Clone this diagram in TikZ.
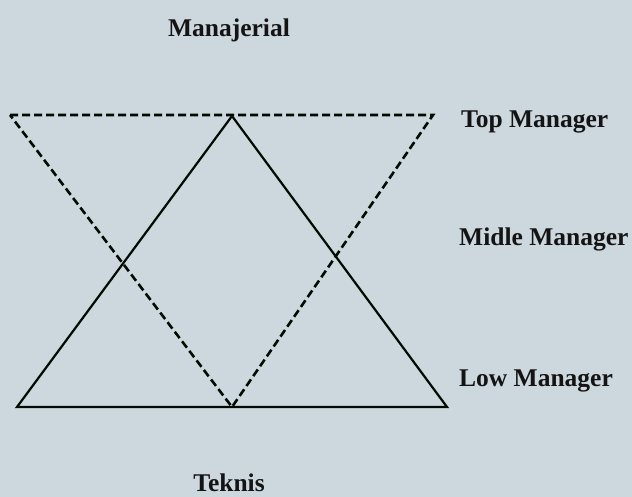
\documentclass[tikz,border=0pt]{standalone}
\usepackage{fontspec}
\setmainfont{Liberation Serif}
\begin{document}
\begin{tikzpicture}[x=1pt,y=-1pt,
  ink/.style={draw=black!90!green!40!black, line width=2.2pt},
  dashln/.style={ink, line width=2.6pt, dash pattern=on 8pt off 4pt},
  lbl/.style={font=\fontsize{25.5}{27}\selectfont\bfseries, text=black!92, inner sep=0pt}]
\fill[fill={rgb,255:red,205;green,215;blue,222}] (0,0) rectangle (632,497);
\useasboundingbox (0,0) rectangle (632,497);
% solid triangle
\coordinate (sa) at (232,116);
\coordinate (sl) at (17,407);
\coordinate (sr) at (447,407);
% dashed inverted triangle
\coordinate (dl) at (10,115);
\coordinate (dr) at (433,115);
\coordinate (db) at (232,407);
\draw[ink, line join=miter] (sa) -- (sl) -- (sr) -- cycle;
\draw[dashln] (dl) -- (dr) -- (db) -- cycle;
% labels
\node[lbl] (manj) at (229,30) {Manajerial};
\node[lbl, anchor=west] (top) at (461,122) {Top Manager};
\node[lbl, anchor=west] (mid) at (459,239) {Midle Manager};
\node[lbl, anchor=west] (low) at (459,381) {Low Manager};
\node[lbl] (tek) at (229,483) {Teknis};
\end{tikzpicture}
\end{document}
